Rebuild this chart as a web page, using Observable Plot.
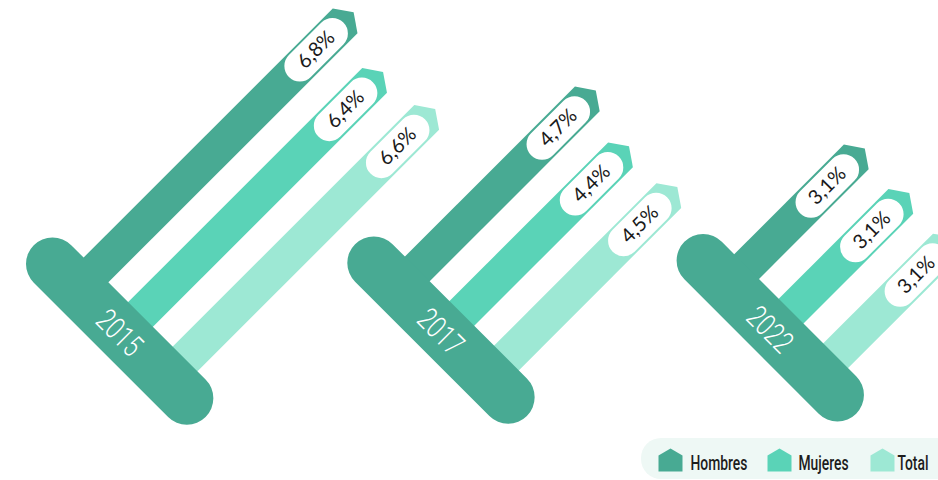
<!DOCTYPE html>
<html><head><meta charset="utf-8">
<script src="https://cdn.jsdelivr.net/npm/d3@7"></script>
<script src="https://cdn.jsdelivr.net/npm/@observablehq/plot@0.6"></script>
<style>
html,body{margin:0;padding:0;background:#fff;overflow:hidden}
#chart svg{display:block}
</style></head><body><div id="chart"></div>
<script>
// ---- data ----
const years = ["2015", "2017", "2022"];
const series = ["Hombres", "Mujeres", "Total"];
const hombres = [6.8, 4.7, 3.1];
const mujeres = [6.4, 4.4, 3.1];
const total = [6.6, 4.5, 3.1];

// ---- styles / layout ----
const colors = ["#48AA93", "#5AD3B7", "#9DE8D4"];
const W = 938, H = 480;
const origins = [[52, 263.4], [373.3, 262.4], [702.6, 260.1]]; // pill left-cap centre of each year group
const pillLen = 190, pillWidth = 53;
const barS0 = 35, barStep = 63, barHalf = 17.5, roof = 12;
const valueScale = d3.scaleLinear().domain([0, 1]).range([16.4, 16.4 + 53.3]); // value -> distance along bar
const R = Math.SQRT1_2;
const pt = (o, s, t) => [o[0] + (s + t) * R, o[1] + (s - t) * R];
const fmt = v => v.toFixed(1).replace(".", ",") + "%";
const yearFont = "Roboto Light, Roboto", legendFont = "Roboto, sans-serif";

const seriesValues = [hombres, mujeres, total];
const rows = years.flatMap((year, gi) => series.map((name, si) => ({
  year, name, gi, si, value: seriesValues[si][gi]
})));

// bar polygons (house shaped)
const polys = [];
rows.forEach((r, i) => {
  const o = origins[r.gi], s = barS0 + r.si * barStep, t = valueScale(r.value);
  [[s - barHalf, 0], [s - barHalf, t], [s, t + roof], [s + barHalf, t], [s + barHalf, 0]].forEach(([a, b]) => {
    const [x, y] = pt(o, a, b);
    polys.push({id: "b" + i, x, y, fill: colors[r.si]});
  });
});

// legend
const legendIconX = [658, 767, 870];
const legendTextX = [690, 798, 897];
series.forEach((name, si) => {
  const x0 = legendIconX[si];
  [[x0, 471], [x0, 455], [x0 + 12, 448], [x0 + 24, 455], [x0 + 24, 471]].forEach(([x, y]) =>
    polys.push({id: "l" + si, x, y, fill: colors[si]}));
});

const pills = years.map((year, gi) => {
  const a = pt(origins[gi], 0, 0), b = pt(origins[gi], pillLen, 0);
  return {x1: a[0], y1: a[1], x2: b[0], y2: b[1]};
});
const labelPills = rows.map(r => {
  const o = origins[r.gi], s = barS0 + r.si * barStep, t = valueScale(r.value);
  const a = pt(o, s, t - 64), b = pt(o, s, t - 18);
  return {x1: a[0], y1: a[1], x2: b[0], y2: b[1]};
});
const labelText = rows.map(r => {
  const o = origins[r.gi], s = barS0 + r.si * barStep, t = valueScale(r.value);
  const [x, y] = pt(o, s, t - 41);
  return {x, y, text: fmt(r.value)};
});
const yearText = years.map((year, gi) => {
  const [x, y] = pt(origins[gi], 96, -2);
  return {x, y, text: year};
});

const chart = Plot.plot({
  width: W, height: H,
  margin: 0,
  x: {domain: [0, W], range: [0, W], axis: null},
  y: {domain: [0, H], range: [0, H], axis: null},
  color: {type: "identity"},
  marks: [
    Plot.rect([{}], {x1: () => 641, x2: () => 990, y1: () => 438, y2: () => 479, rx: 20, fill: "#EEF8F5"}),
    Plot.line(polys, {x: "x", y: "y", z: "id", fill: "fill", stroke: null, curve: "linear-closed"}),
    Plot.link(pills, {x1: "x1", y1: "y1", x2: "x2", y2: "y2", stroke: colors[0], strokeWidth: pillWidth, strokeLinecap: "round"}),
    Plot.link(labelPills, {x1: "x1", y1: "y1", x2: "x2", y2: "y2", stroke: "white", strokeWidth: 31, strokeLinecap: "round"}),
    Plot.text(labelText, {x: "x", y: "y", text: "text", rotate: -45, fontSize: 20, fontFamily: "Lato", fontWeight: 400, fill: "#1a1a1a", lineAnchor: "middle", textAnchor: "middle"}),
    Plot.text(yearText, {x: "x", y: "y", text: "text", rotate: 45, fontSize: 31, fontFamily: yearFont, fontWeight: 400, fill: "white", lineAnchor: "middle", textAnchor: "middle"}),
    Plot.text(series, {x: (d, i) => legendTextX[i], y: () => 463, text: d => d, fontSize: 21, fontFamily: legendFont, fontWeight: 500, fill: "#1d1d1d", textAnchor: "start", lineAnchor: "middle"})
  ]
});
document.getElementById("chart").appendChild(chart);

// condense narrow-font texts along their baseline
function condense(fontAttr, sx) {
  d3.select(chart).selectAll(`g[font-family="${fontAttr}"] text`).each(function() {
    const L = this.getComputedTextLength();
    this.setAttribute("textLength", L * sx);
    this.setAttribute("lengthAdjust", "spacingAndGlyphs");
  });
}
condense(yearFont, 0.74);
condense(legendFont, 0.66);
</script></body></html>
